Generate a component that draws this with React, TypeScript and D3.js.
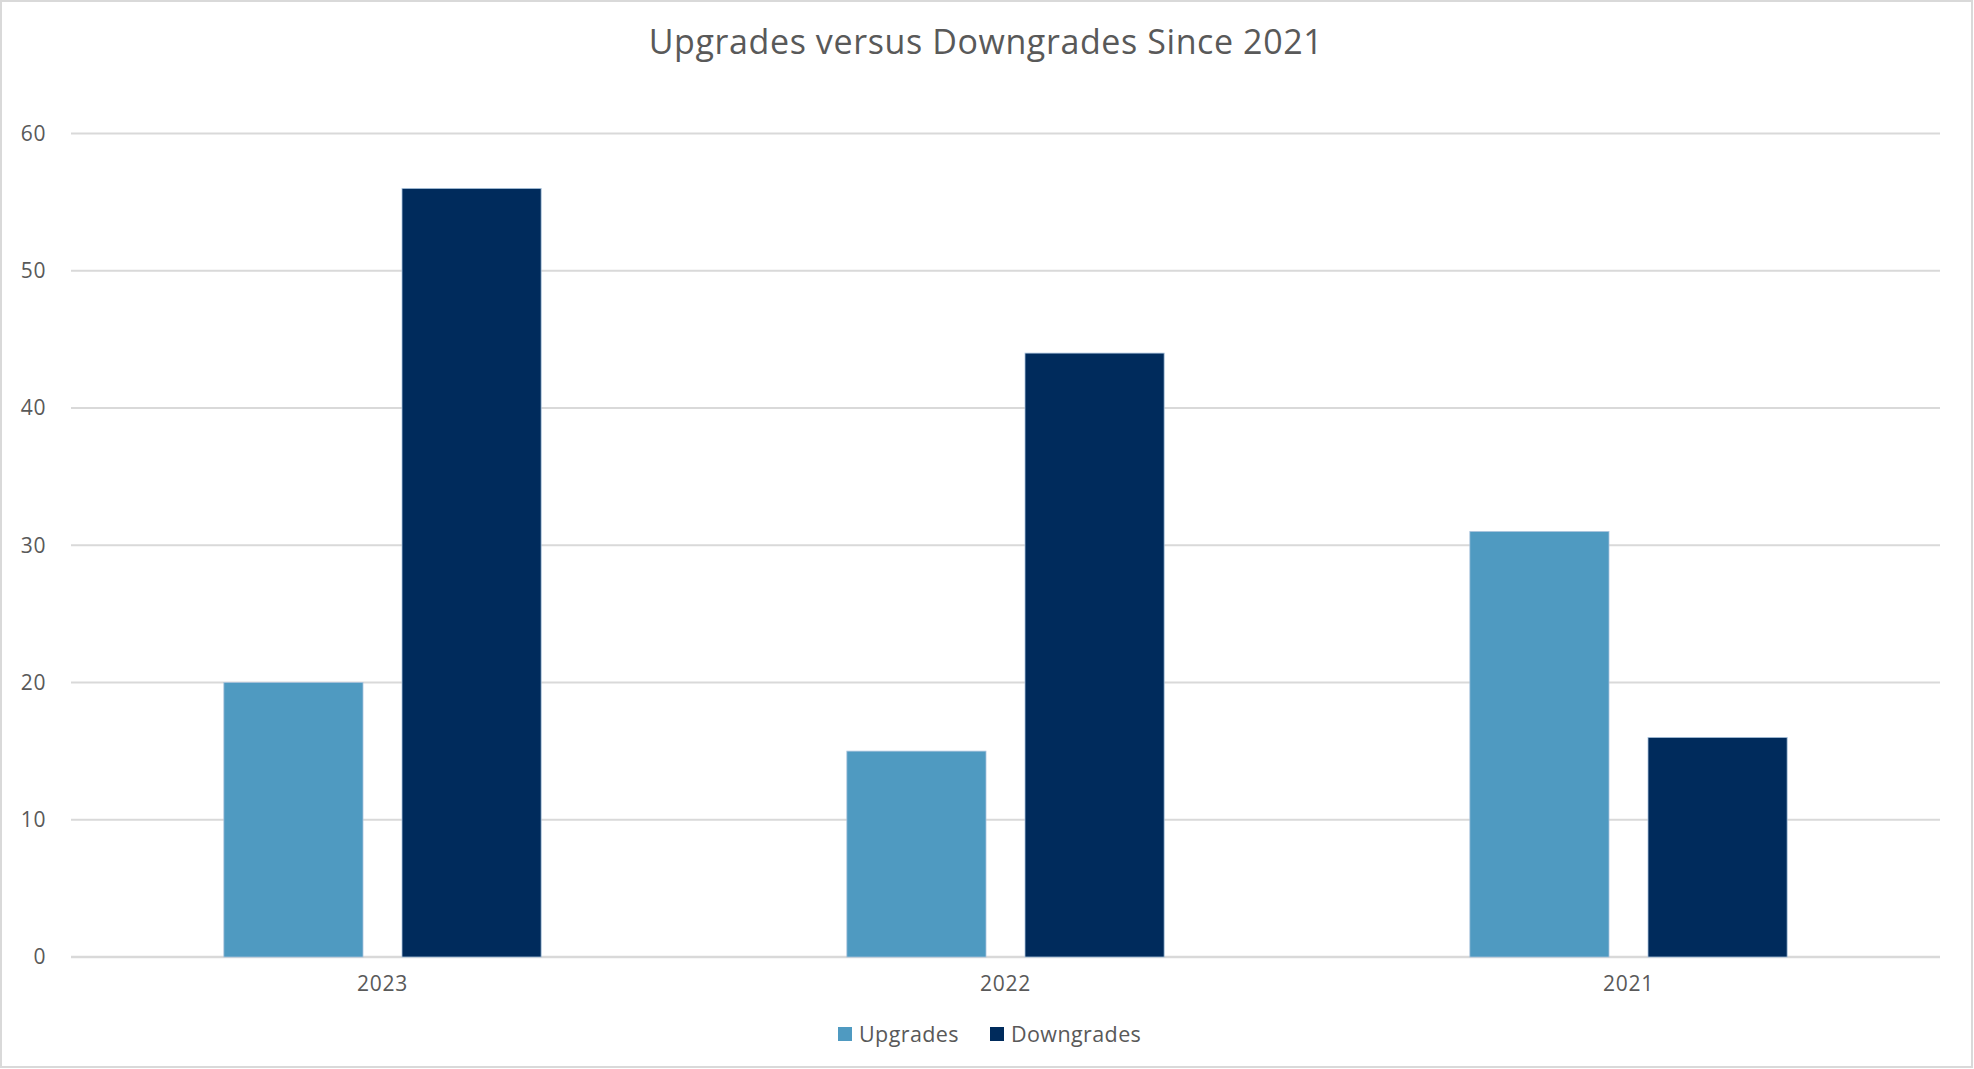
import React from "react";
import * as d3 from "d3";

const categories = ["2023", "2022", "2021"];
const seriesNames = ["Upgrades", "Downgrades"];
const upgrades = [20, 15, 31];
const downgrades = [56, 44, 16];
const yTicks = [0, 10, 20, 30, 40, 50, 60];
const title = "Upgrades versus Downgrades Since 2021";
const colors = ["#4F9AC1", "#002B5C"];

const W = 1974;
const H = 1069;
const M = { left: 71, right: 34, top: 133.5, bottom: 112 };
const FONT = "'Open Sans', sans-serif";

export default function App() {
  const x0 = d3.scaleBand<string>().domain(categories).range([M.left, W - M.right]).padding(0);
  const x1 = d3
    .scaleBand<string>()
    .domain(seriesNames)
    .range([0, x0.bandwidth()])
    .paddingInner(0.219)
    .paddingOuter(0.858);
  const y = d3.scaleLinear().domain([0, 60]).range([H - M.bottom, M.top]);
  const values = [upgrades, downgrades];

  return (
    <svg
      width={W}
      height={H}
      style={{ position: "absolute", left: 0, top: 0, background: "#fff" }}
      fontFamily={FONT}
    >
      <rect x={1} y={1} width={W - 3} height={H - 3} fill="#fff" stroke="#d9d9d9" strokeWidth={2} />
      <text x={W / 2 - 1} y={54} textAnchor="middle" fontSize={34} letterSpacing={0.6} fill="#595959">
        {title}
      </text>
      {yTicks.map((t) => (
        <g key={t}>
          <line
            x1={M.left}
            x2={W - M.right}
            y1={y(t)}
            y2={y(t)}
            stroke="#d9d9d9"
            strokeWidth={t === 0 ? 2.5 : 2}
          />
          <text x={46} y={y(t)} dy="0.35em" textAnchor="end" fontSize={21} letterSpacing={0.6} fill="#595959">
            {t}
          </text>
        </g>
      ))}
      {categories.map((c, i) => (
        <g key={c} transform={`translate(${x0(c)},0)`}>
          {seriesNames.map((s, j) => (
            <rect
              key={s}
              x={x1(s)}
              y={y(values[j][i])}
              width={x1.bandwidth()}
              height={y(0) - y(values[j][i])}
              fill={colors[j]}
              stroke="#a9c3dd"
              strokeWidth={0.8}
            />
          ))}
          <text
            x={x0.bandwidth() / 2}
            y={H - M.bottom + 34}
            textAnchor="middle"
            fontSize={21}
            letterSpacing={0.8}
            fill="#595959"
          >
            {c}
          </text>
        </g>
      ))}
      <g>
        {seriesNames.map((s, j) => {
          const lx = [838, 990][j];
          return (
            <g key={s}>
              <rect x={lx} y={1027} width={14} height={14} fill={colors[j]} />
              <text x={lx + 21} y={1034} dy="0.35em" fontSize={21.5} letterSpacing={0.4} fill="#595959">
                {s}
              </text>
            </g>
          );
        })}
      </g>
    </svg>
  );
}
